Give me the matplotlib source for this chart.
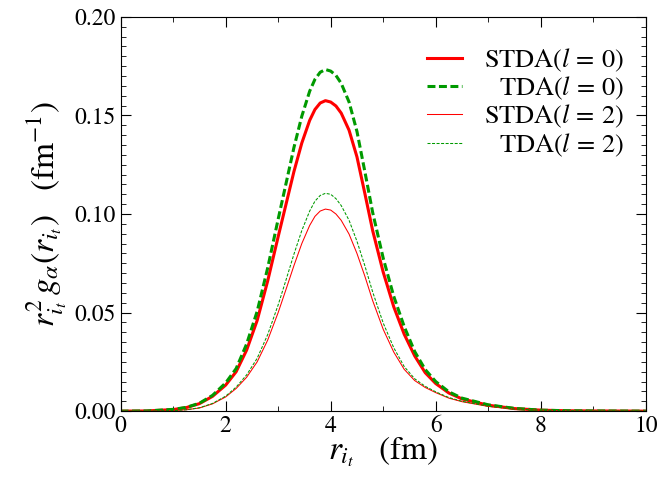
import numpy as np
import matplotlib
matplotlib.use("Agg")
import matplotlib.pyplot as plt
from matplotlib.ticker import MultipleLocator, FormatStrFormatter
from matplotlib.transforms import IdentityTransform

plt.rcParams['font.family'] = ['STIXGeneral', 'DejaVu Serif']
plt.rcParams['mathtext.fontset'] = 'stix'

# radial grid (fm)
r = [0.0, 0.5, 1.0, 1.25, 1.5, 1.75, 2.0, 2.2, 2.4, 2.6, 2.8, 3.0, 3.15, 3.3,
     3.45, 3.6, 3.7, 3.8, 3.9, 4.0, 4.1, 4.2, 4.35, 4.5, 4.65, 4.8, 5.0, 5.2,
     5.4, 5.6, 5.8, 6.0, 6.25, 6.5, 7.0, 7.5, 8.0, 8.5, 9.0, 10.0]

stda_l0 = [0.0, 0.0001, 0.0008, 0.0018, 0.0038, 0.0075, 0.0132, 0.0200, 0.0310,
           0.0460, 0.0660, 0.0885, 0.1050, 0.1215, 0.1360, 0.1475, 0.1530, 0.1563,
           0.1575, 0.1568, 0.1548, 0.1512, 0.1425, 0.1290, 0.1105, 0.0915, 0.0705,
           0.0530, 0.0390, 0.0280, 0.0195, 0.0140, 0.0092, 0.0062, 0.0030, 0.0013,
           0.0005, 0.0002, 0.0001, 0.0]
tda_l0 = [0.0, 0.0001, 0.0009, 0.0019, 0.0040, 0.0080, 0.0143, 0.0216, 0.0341,
          0.0506, 0.0726, 0.0974, 0.1155, 0.1337, 0.1496, 0.1623, 0.1683, 0.1719,
          0.1733, 0.1725, 0.1703, 0.1663, 0.1568, 0.1419, 0.1216, 0.1007, 0.0776,
          0.0583, 0.0429, 0.0302, 0.0211, 0.0150, 0.0098, 0.0066, 0.0032, 0.0014,
          0.0005, 0.0002, 0.0001, 0.0]
stda_l2 = [0.0, 0.0, 0.0003, 0.0007, 0.0016, 0.0037, 0.0072, 0.0115, 0.0172,
           0.0250, 0.0360, 0.0500, 0.0618, 0.0738, 0.0850, 0.0942, 0.0988, 0.1015,
           0.1025, 0.1020, 0.1000, 0.0968, 0.0898, 0.0800, 0.0685, 0.0560, 0.0415,
           0.0300, 0.0212, 0.0155, 0.0120, 0.0094, 0.0066, 0.0048, 0.0024, 0.0011,
           0.0005, 0.0002, 0.0001, 0.0]
tda_l2 = [0.0, 0.0, 0.0003, 0.0007, 0.0017, 0.0039, 0.0076, 0.0122, 0.0184,
          0.0268, 0.0388, 0.0539, 0.0666, 0.0796, 0.0916, 0.1015, 0.1065, 0.1094,
          0.1105, 0.1100, 0.1078, 0.1043, 0.0968, 0.0862, 0.0738, 0.0604, 0.0447,
          0.0322, 0.0226, 0.0164, 0.0126, 0.0098, 0.0069, 0.0050, 0.0025, 0.0011,
          0.0005, 0.0002, 0.0001, 0.0]

labels = [r'$\mathrm{STDA}(l\,=\,0)$', r'$\mathrm{TDA}(l\,=\,0)$',
          r'$\mathrm{STDA}(l\,=\,2)$', r'$\mathrm{TDA}(l\,=\,2)$']
green = '#009a00'

fig = plt.figure(figsize=(6.59, 4.82), dpi=100)
ax = fig.add_axes([0.183, 0.147, 0.797, 0.818])

ax.plot(r, stda_l0, color='red', lw=2.2, label=labels[0])
ax.plot(r, tda_l0, color=green, lw=2.2, ls=(0, (2.6, 1.15)), label=labels[1])
ax.plot(r, stda_l2, color='red', lw=0.75, label=labels[2])
ax.plot(r, tda_l2, color=green, lw=0.75, ls=(0, (2.9, 1.45)), label=labels[3])

ax.set_xlim(0, 10)
ax.set_ylim(0, 0.20)
ax.xaxis.set_major_locator(MultipleLocator(2))
ax.xaxis.set_minor_locator(MultipleLocator(1))
ax.yaxis.set_major_locator(MultipleLocator(0.05))
ax.yaxis.set_minor_locator(MultipleLocator(0.005))
ax.yaxis.set_major_formatter(FormatStrFormatter('%.2f'))
ax.tick_params(which='both', direction='in', top=True, right=True, labelsize=17)
ax.tick_params(which='major', length=7)
ax.tick_params(which='minor', length=3.5)

ax.set_xlabel(r'$r_{i_t}\ \ \ (\mathrm{fm})$', fontsize=24, labelpad=-2)
ax.set_ylabel(r'$r_{i_t}^2\, g_\alpha(r_{i_t})\ \ \ (\mathrm{fm}^{-1})$', fontsize=24, labelpad=4)

leg = ax.legend(loc='upper left', bbox_to_anchor=(0.583, 0.925), frameon=False,
                fontsize=19, handlelength=1.33, labelspacing=0.04, handletextpad=0.8,
                borderpad=0, borderaxespad=0)

# right-align the legend texts: hide the packed ones and redraw them aligned
fig.canvas.draw()
renderer = fig.canvas.get_renderer()
x_right = ax.transAxes.transform((0.958, 0))[0]
for t in leg.get_texts():
    bb = t.get_window_extent(renderer)
    t.set_alpha(0)
    fig.text(x_right, bb.y0, t.get_text(), fontsize=19, ha='right', va='bottom',
             transform=IdentityTransform())

fig.savefig('out.png', dpi=100)
